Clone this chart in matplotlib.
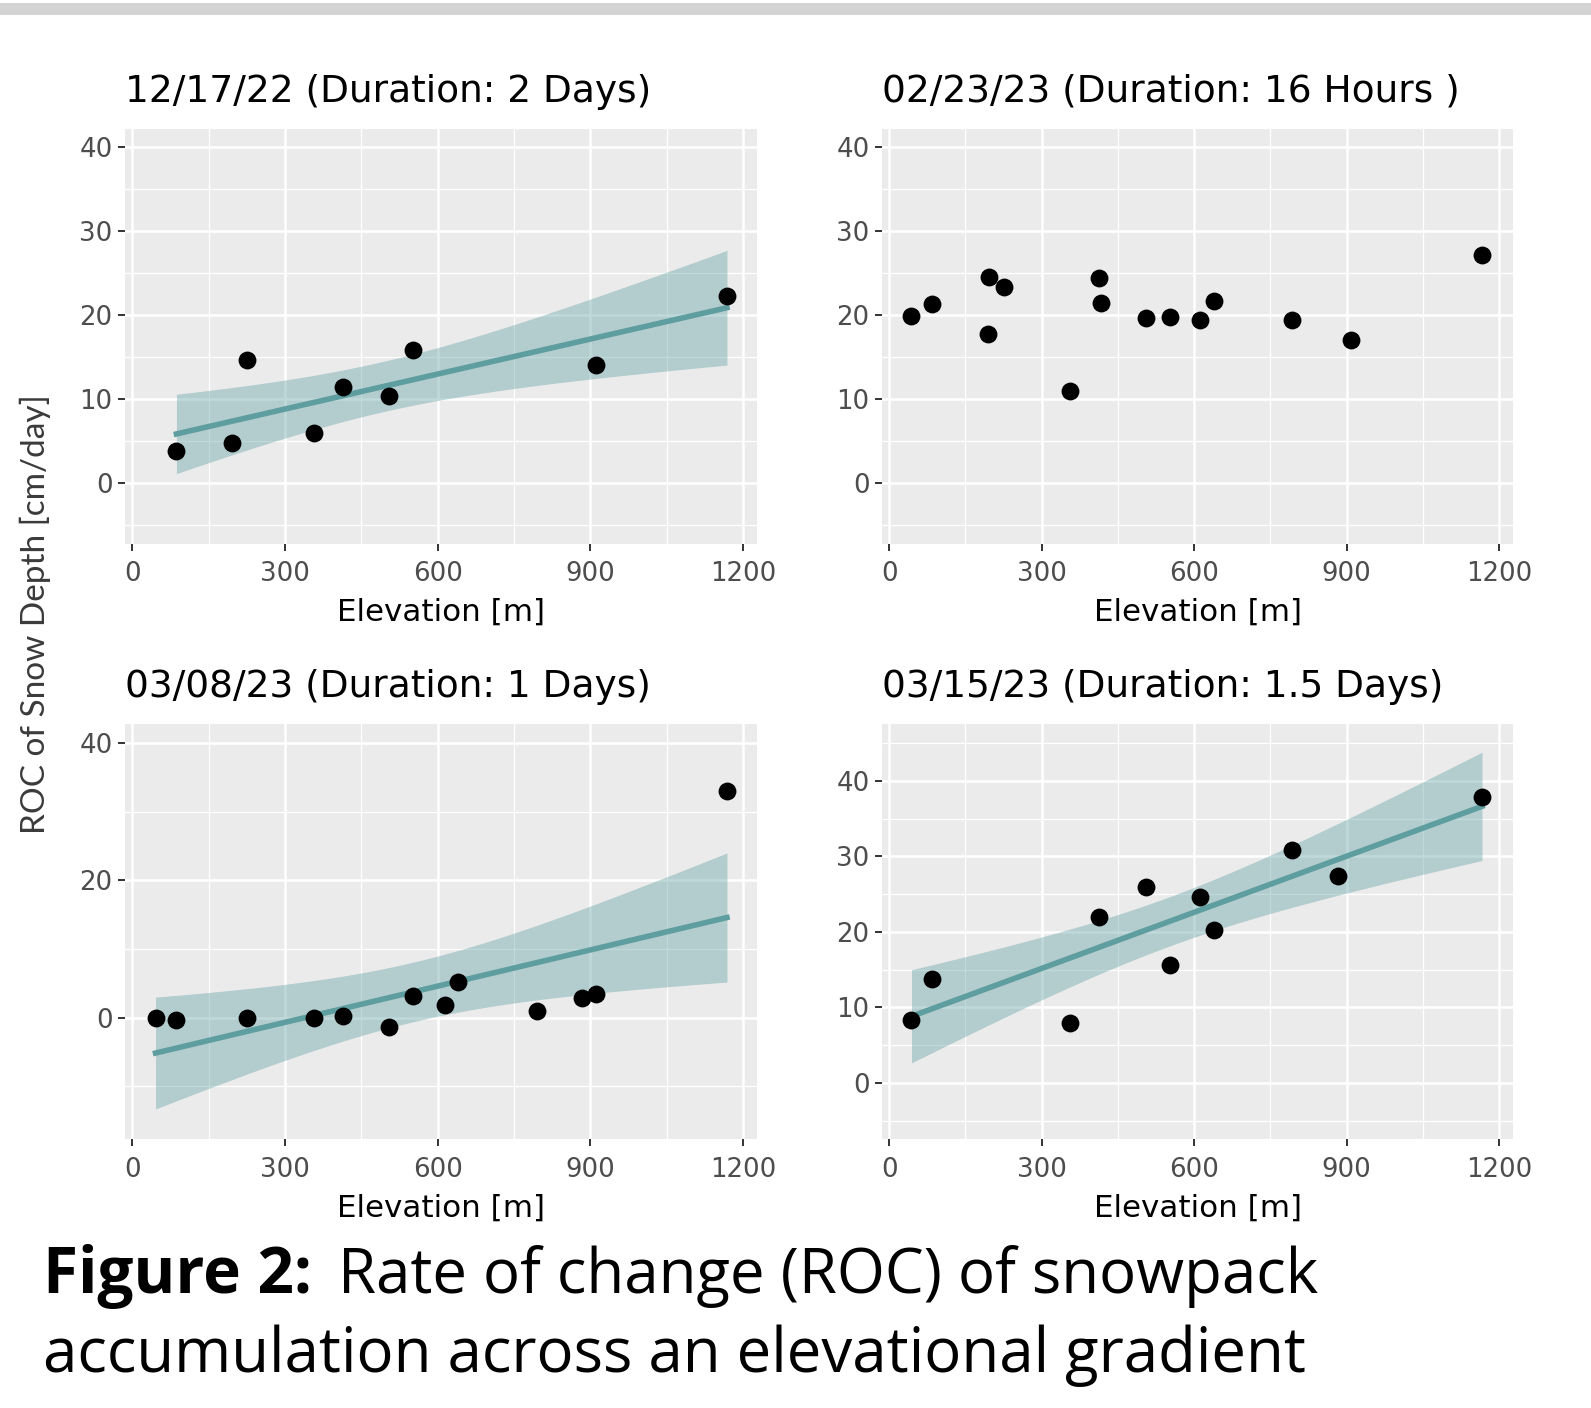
import numpy as np
import matplotlib
matplotlib.use("Agg")
import matplotlib.pyplot as plt
from matplotlib.ticker import MultipleLocator

# ---- data ----
titles = ["12/17/22 (Duration: 2 Days)", "02/23/23 (Duration: 16 Hours )",
          "03/08/23 (Duration: 1 Days)", "03/15/23 (Duration: 1.5 Days)"]

elev_dec17 = [87, 197, 225, 358, 415, 505, 552, 910, 1168]
roc_dec17 = [3.8, 4.7, 14.7, 5.9, 11.4, 10.3, 15.9, 14.1, 22.3]

elev_feb23 = [44, 85, 197, 195, 225, 356, 413, 417, 505, 552, 612, 638, 793, 908, 1166]
roc_feb23 = [19.9, 21.3, 24.6, 17.7, 23.3, 10.9, 24.4, 21.5, 19.6, 19.8, 19.4, 21.7, 19.4, 17.0, 27.2]

elev_mar08 = [46, 87, 225, 358, 415, 505, 552, 614, 640, 795, 884, 910, 1168]
roc_mar08 = [0.0, -0.3, 0.0, 0.0, 0.3, -1.3, 3.1, 1.9, 5.2, 0.9, 2.8, 3.4, 33.0]

elev_mar15 = [44, 85, 356, 413, 505, 552, 612, 638, 793, 882, 1166]
roc_mar15 = [8.3, 13.8, 7.9, 22.0, 26.0, 15.6, 24.6, 20.3, 30.9, 27.4, 37.9]

show_fit = [True, False, True, True]
y_limits = [(-5, 40), (-5, 40), (-15, 40), (-5, 45)]
y_major = [10, 10, 20, 10]

# two-sided 95% t quantiles by degrees of freedom
T975 = {7: 2.365, 9: 2.262, 11: 2.201, 13: 2.160}

W, H = 1591, 1408
BG = "#EBEBEB"
LINE = "#5F9EA0"

fig = plt.figure(figsize=(W / 100, H / 100), dpi=100)


def px_axes(left, top, right, bottom):
    return fig.add_axes([left / W, 1 - bottom / H, (right - left) / W, (bottom - top) / H])


def lm_band(x, y, n_pts=80):
    x = np.asarray(x, float)
    y = np.asarray(y, float)
    n = len(x)
    slope, icpt = np.polyfit(x, y, 1)
    resid = y - (slope * x + icpt)
    s = np.sqrt(np.sum(resid ** 2) / (n - 2))
    xs = np.linspace(x.min(), x.max(), n_pts)
    se = s * np.sqrt(1 / n + (xs - x.mean()) ** 2 / np.sum((x - x.mean()) ** 2))
    fit = slope * xs + icpt
    t = T975[n - 2]
    return xs, fit, fit - t * se, fit + t * se


data = [(elev_dec17, roc_dec17), (elev_feb23, roc_feb23),
        (elev_mar08, roc_mar08), (elev_mar15, roc_mar15)]
cols = [(125, 757), (882, 1513)]
rows = [(128.5, 543.7), (724.2, 1139.4)]

for i, (ex, ry) in enumerate(data):
    l, r = cols[i % 2]
    t, b = rows[i // 2]
    ax = px_axes(l, t, r, b)
    ax.set_facecolor(BG)
    for sp in ax.spines.values():
        sp.set_visible(False)

    ax.set_xlim(-14, 1227)
    lo, hi = y_limits[i]
    pad = (hi - lo) * 0.05
    ax.set_ylim(lo - pad, hi + pad)

    ax.xaxis.set_major_locator(MultipleLocator(300))
    ax.xaxis.set_minor_locator(MultipleLocator(150))
    ax.yaxis.set_major_locator(MultipleLocator(y_major[i]))
    ax.yaxis.set_minor_locator(MultipleLocator(y_major[i] / 2))
    ax.grid(which="major", color="white", lw=1.8)
    ax.grid(which="minor", color="white", lw=0.9)
    ax.set_axisbelow(True)
    ax.tick_params(which="minor", length=0)
    ax.tick_params(which="major", length=5, width=1.4, color="#333333",
                   labelsize=18.7, labelcolor="#4D4D4D", pad=4)
    ax.tick_params(axis="x", which="major", pad=7.5)

    if show_fit[i]:
        xs, fit, low, up = lm_band(ex, ry)
        ax.fill_between(xs, low, up, color=LINE, alpha=0.4, lw=0, zorder=2)
        ax.plot(xs, fit, color=LINE, lw=4, zorder=3)
    ax.scatter(ex, ry, s=165, color="black", lw=0, zorder=4)

    fig.text(l / W, 1 - (t - 27) / H, titles[i], fontsize=27, va="baseline", ha="left")
    fig.text((l + r) / 2 / W, 1 - (b + 77) / H, "Elevation [m]", fontsize=22.3,
             va="baseline", ha="center")

fig.text(35.5 / W, 1 - 614 / H, "ROC of Snow Depth [cm/day]", rotation=90,
         fontsize=24, family="Lato", color="#3A3A3A", ha="center", va="center")

# grey band along the top edge
fig.patches.append(plt.Rectangle((0, 1 - 15 / H), 1, 12 / H, transform=fig.transFigure,
                                 color="#D3D3D3", lw=0))

# caption: bold lead-in followed by regular text on the same line
cap_font = "Open Sans"
cap_size = 44.5
lead = fig.text(42.6 / W, 1 - 1293 / H, "Figure 2:", fontsize=46, family=cap_font,
                fontweight="bold", va="baseline")
renderer = fig.canvas.get_renderer()
lead_box = lead.get_window_extent(renderer)
fig.text(max(lead_box.x1 + 22, 338) / W, 1 - 1293 / H, "Rate of change (ROC) of snowpack",
         fontsize=cap_size, family=cap_font, va="baseline")
fig.text(42.6 / W, 1 - 1372 / H, "accumulation across an elevational gradient",
         fontsize=cap_size, family=cap_font, va="baseline")

fig.savefig("out.png", dpi=100, facecolor="white")
